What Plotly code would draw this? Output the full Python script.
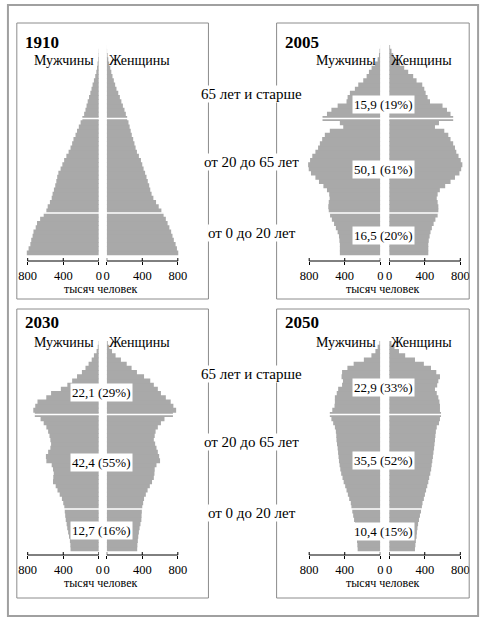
import plotly.graph_objects as go

# age groups (2-year steps), thousands of people per group
AGES = list(range(0, 100, 2))

M1910 = [810, 790, 770, 760, 745, 735, 710, 695, 660, 620, 590, 575, 550, 530, 520, 505, 490, 478, 468, 455,
         430, 410, 390, 365, 340, 318, 300, 285, 262, 245, 225, 205, 185, 165, 150, 138, 125, 110, 95, 82,
         70, 55, 40, 28, 20, 14, 8, 4, 2, 0]
F1910 = [805, 790, 775, 755, 740, 725, 705, 685, 665, 640, 615, 585, 555, 525, 505, 490, 478, 462, 448, 432,
         415, 400, 385, 362, 340, 325, 312, 298, 282, 270, 258, 245, 230, 215, 200, 182, 165, 148, 130, 110,
         95, 80, 65, 52, 40, 28, 18, 10, 4, 1]
M2005 = [455, 455, 455, 460, 465, 480, 500, 520, 545, 565, 580, 585, 580, 570, 575, 600, 640, 690, 730, 780,
         805, 812, 790, 765, 730, 700, 680, 654, 624, 568, 417, 455, 650, 600, 550, 480, 380, 368, 342, 286,
         248, 192, 154, 128, 98, 60, 30, 15, 8, 2]
F2005 = [440, 440, 440, 445, 455, 465, 480, 500, 520, 545, 553, 553, 545, 535, 545, 570, 630, 690, 740, 790,
         810, 823, 805, 780, 755, 740, 720, 690, 665, 620, 515, 560, 720, 690, 650, 600, 459, 432, 410, 395,
         372, 308, 270, 214, 169, 120, 71, 45, 26, 10]
M2030 = [318, 320, 325, 335, 345, 355, 362, 372, 378, 383, 388, 400, 415, 440, 465, 485, 515, 512, 507, 515,
         530, 590, 595, 570, 545, 537, 545, 555, 570, 590, 620, 655, 720, 737, 715, 690, 591, 537, 427, 354,
         300, 245, 190, 150, 115, 80, 55, 25, 12, 4]
F2030 = [343, 345, 350, 355, 362, 370, 380, 390, 392, 395, 400, 410, 420, 440, 460, 485, 510, 530, 537, 540,
         560, 600, 590, 575, 560, 545, 530, 540, 550, 575, 610, 650, 745, 781, 750, 720, 665, 610, 575, 530,
         490, 420, 340, 280, 225, 160, 100, 60, 30, 12]
M2050 = [255, 258, 262, 267, 272, 278, 285, 295, 305, 315, 325, 332, 350, 365, 380, 395, 412, 425, 440, 450,
         458, 465, 470, 475, 480, 487, 493, 495, 500, 511, 530, 550, 568, 540, 515, 511, 511, 490, 474, 430,
         420, 436, 430, 370, 300, 185, 100, 55, 30, 10]
F2050 = [290, 295, 300, 308, 312, 318, 325, 335, 346, 358, 368, 375, 390, 402, 415, 428, 440, 450, 462, 472,
         478, 485, 492, 498, 505, 510, 515, 520, 525, 535, 560, 571, 583, 571, 571, 565, 553, 535, 515, 540,
         553, 571, 530, 470, 390, 290, 180, 110, 60, 25]

YEARS = ["1910", "2005", "2030", "2050"]
GROUP_LABELS = ["15,9 (19%)", "50,1 (61%)", "16,5 (20%)",
                "22,1 (29%)", "42,4 (55%)", "12,7 (16%)",
                "22,9 (33%)", "35,5 (52%)", "10,4 (15%)"]
BANDS = ["65 лет и старше", "от 20 до 65 лет", "от 0 до 20 лет"]
TICKS = [0, 400, 800]

W, H = 488, 621
GRAY = "#a9a9a9"
SERIF = "Liberation Serif"


def px(x):
    return x / W


def py(y):
    return 1 - y / H


def note(text, x, y, size, **kw):
    # text placed by its centre, in pixels from the top-left corner
    d = dict(text=text, x=px(x), y=py(y), xref="paper", yref="paper", showarrow=False,
             xanchor="center", yanchor="middle", font=dict(size=size, family=SERIF, color="black"))
    d.update(kw)
    return d


# panel geometry in pixels: box, male zero, female zero, age-0 row, axis row, title row, sex-label row
panels = [
    dict(year=YEARS[0], m=M1910, f=F1910, box=(14, 23, 208, 299), m0=97, f0=105, a0=255, ax=261,
         ty=43, sy=61, labels=None),
    dict(year=YEARS[1], m=M2005, f=F2005, box=(277, 23, 472, 299), m0=382, f0=391, a0=255, ax=261,
         ty=43, sy=61, labels=GROUP_LABELS[0:3], ly=[105, 169, 235]),
    dict(year=YEARS[2], m=M2030, f=F2030, box=(14, 309, 208, 598), m0=97, f0=105, a0=551, ax=555,
         ty=322, sy=342, labels=GROUP_LABELS[3:6], ly=[392, 462, 530]),
    dict(year=YEARS[3], m=M2050, f=F2050, box=(277, 309, 472, 598), m0=382, f0=391, a0=551, ax=555,
         ty=322, sy=342, labels=GROUP_LABELS[6:9], ly=[387, 460, 531]),
]

SPAN = 81      # pixels for 900 thousand
PX_YEAR = 2.1  # pixels per year of age

fig = go.Figure()
layout = dict(width=W, height=H, margin=dict(l=0, r=0, t=0, b=0),
              paper_bgcolor="white", plot_bgcolor="white", showlegend=False,
              barmode="overlay", font=dict(family=SERIF, color="black"))
shapes = []
annotations = []

for i, p in enumerate(panels):
    xm = "x" if i == 0 else "x%d" % (2 * i + 1)
    xf = "x%d" % (2 * i + 2)
    yk = "y" if i == 0 else "y%d" % (i + 1)
    ymid = [a + 1 for a in AGES]

    # bars slightly overlap so no hairline gaps show between age groups
    bar_style = dict(color=GRAY, line=dict(width=0))
    fig.add_trace(go.Bar(x=p["m"], y=ymid, orientation="h", width=2.35, xaxis=xm, yaxis=yk,
                         marker=bar_style, hoverinfo="skip"))
    fig.add_trace(go.Bar(x=p["f"], y=ymid, orientation="h", width=2.35, xaxis=xf, yaxis=yk,
                         marker=bar_style, hoverinfo="skip"))

    ylo = (p["a0"] - p["ax"]) / PX_YEAR
    top = p["a0"] - 100 * PX_YEAR
    axis_common = dict(tickvals=TICKS, ticktext=[str(t) for t in TICKS], ticks="outside", ticklen=3,
                       tickcolor="black", tickwidth=1, showgrid=False, zeroline=False, showline=False,
                       tickfont=dict(family=SERIF, size=12.5, color="black"), anchor=yk, fixedrange=True)
    layout[xm.replace("x", "xaxis", 1)] = dict(axis_common, range=[900, 0],
                                               domain=[px(p["m0"] - SPAN), px(p["m0"])])
    layout[xf.replace("x", "xaxis", 1)] = dict(axis_common, range=[0, 900],
                                               domain=[px(p["f0"]), px(p["f0"] + SPAN)])
    layout[yk.replace("y", "yaxis", 1)] = dict(range=[ylo, 100], domain=[py(p["ax"]), py(top)],
                                               anchor=xm, showgrid=False, zeroline=False, fixedrange=True,
                                               showticklabels=False, showline=False, ticks="")

    # axis lines with tick marks crossing them
    for xa in (xm, xf):
        shapes.append(dict(type="line", xref=xa, yref="paper", x0=0, x1=800,
                           y0=py(p["ax"]), y1=py(p["ax"]), line=dict(color="black", width=1)))
        for t in TICKS:
            shapes.append(dict(type="line", xref=xa, yref="paper", x0=t, x1=t,
                               y0=py(p["ax"]), y1=py(p["ax"] - 3), line=dict(color="black", width=1)))

    # white separators at 20 and 65 years
    for a in (20, 65):
        shapes.append(dict(type="line", xref="paper", yref=yk, x0=px(p["m0"] - SPAN), x1=px(p["f0"] + SPAN),
                           y0=a, y1=a, line=dict(color="white", width=1.6), layer="above"))

    x0, y0, x1, y1 = p["box"]
    shapes.append(dict(type="rect", xref="paper", yref="paper", x0=px(x0), x1=px(x1), y0=py(y0), y1=py(y1),
                       line=dict(color="#8c8c8c", width=1)))

    annotations.append(note("<b>%s</b>" % p["year"], x0 + 6, p["ty"], 17, xanchor="left"))
    annotations.append(note("Мужчины", p["m0"] - 35, p["sy"], 14))
    annotations.append(note("Женщины", p["f0"] + 33, p["sy"], 14))
    annotations.append(note("тысяч человек", (p["m0"] + p["f0"]) / 2 - 2, p["ax"] + 28, 12))
    if p["labels"]:
        for lab, yy in zip(p["labels"], p["ly"]):
            annotations.append(note(lab, (p["m0"] + p["f0"]) / 2 - 1, yy, 13, bgcolor="white", borderpad=1))

# age bands between the columns
for yrow in ([94, 162, 233], [374, 442, 513]):
    for txt, yy in zip(BANDS, yrow):
        annotations.append(note(txt, 252, yy, 15, bgcolor="white", borderpad=0))

shapes.append(dict(type="rect", xref="paper", yref="paper", x0=px(5), x1=px(481), y0=py(5), y1=py(616),
                   line=dict(color="#a0a0a0", width=2)))

layout["shapes"] = shapes
layout["annotations"] = annotations
fig.update_layout(**layout)
fig.write_html("out.html", config={"displayModeBar": False, "staticPlot": True},
               post_script="document.body.style.margin='0';")
